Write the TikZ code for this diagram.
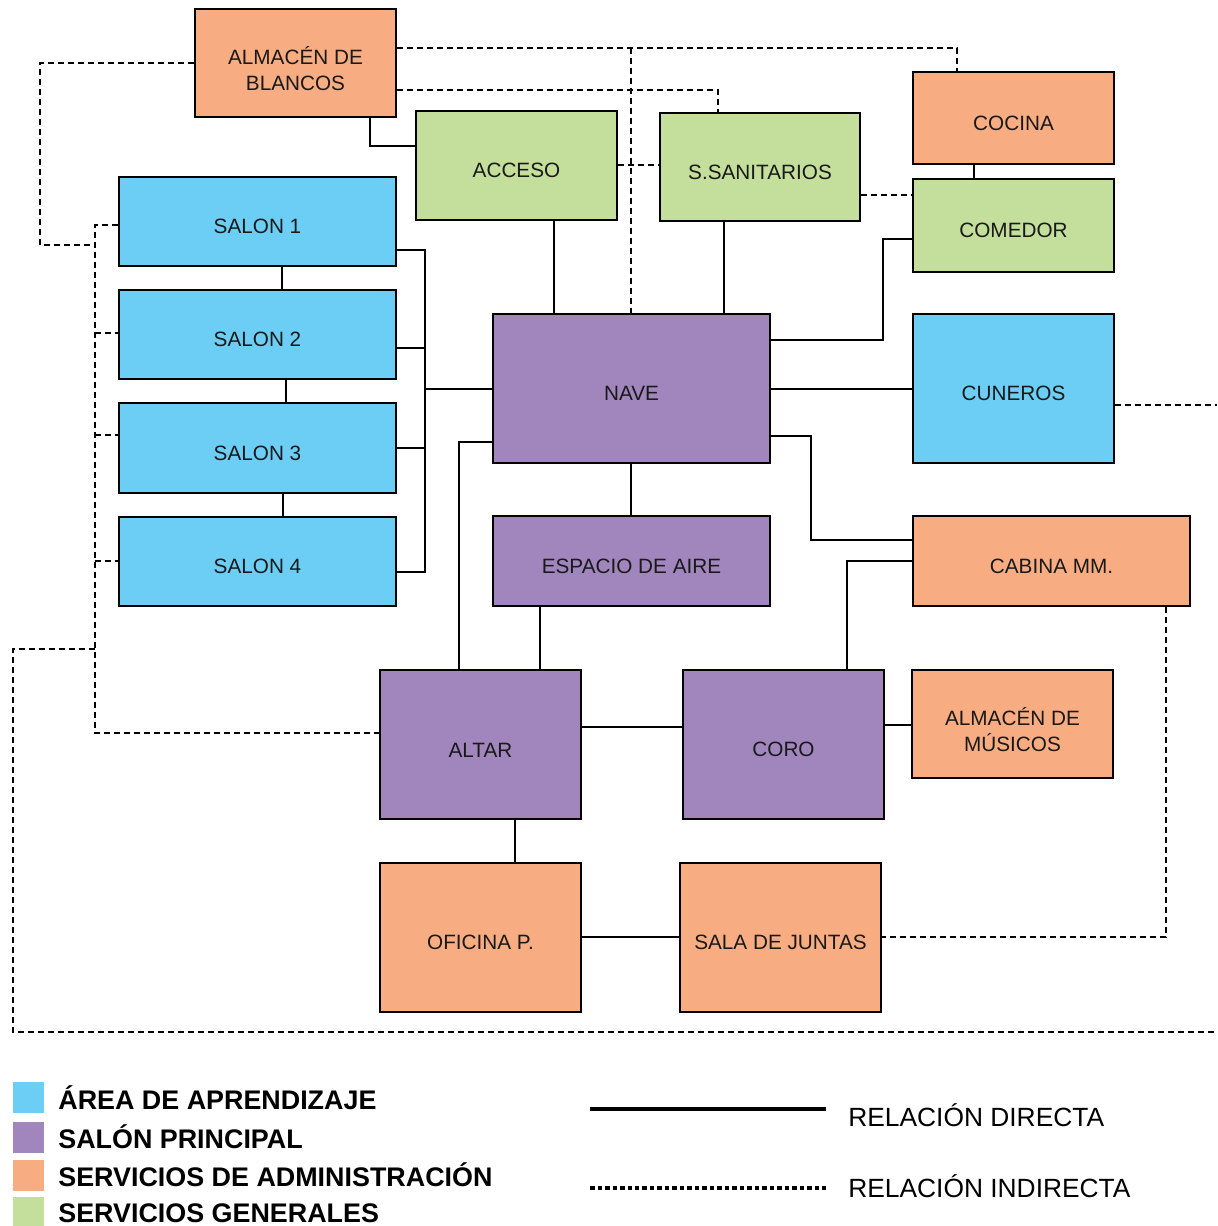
\documentclass[tikz,border=0pt]{standalone}
\usepackage{fontspec}
\setmainfont{Liberation Sans}
\definecolor{cblue}{RGB}{108,206,245}
\definecolor{cpurple}{RGB}{160,134,189}
\definecolor{corange}{RGB}{248,172,130}
\definecolor{cgreen}{RGB}{196,223,155}
\definecolor{ctext}{RGB}{25,25,25}
\tikzset{
  room/.style={draw=black, line width=1.1pt, inner sep=0pt, align=center, text=ctext,
    font=\fontsize{11.8}{14.7}\selectfont, text height=0.5cm},
  tworow/.style={text height=1.12cm, font=\fontsize{11.8}{15.2}\selectfont},
  link/.style={line width=1.1pt},
  ilink/.style={line width=1.1pt, dash pattern=on 0.12cm off 0.08cm},
  legsq/.style={inner sep=0pt},
  legtxt/.style={anchor=west, inner sep=0pt, text=black, font=\fontsize{15}{18}\selectfont},
}
\newcommand\roomnode[8][]{%
  \node[room, #1, fill=#3, minimum width={(#6-#4)*0.02cm}, minimum height={(#7-#5)*0.02cm}]
    (#2) at ({(#4+#6)/2},{(#5+#7)/2}) {#8};}
\begin{document}
\begin{tikzpicture}[x=0.02cm, y=-0.02cm]
\useasboundingbox (0,0) rectangle (1217,1226);
% rooms
\roomnode[tworow]{almb}{corange}{195}{9}{396}{117}{ALMACÉN DE\\BLANCOS}
\roomnode{acceso}{cgreen}{416}{111}{617}{220}{ACCESO}
\roomnode{ssan}{cgreen}{660}{113}{860}{221}{S.SANITARIOS}
\roomnode{cocina}{corange}{913}{72}{1114}{164}{COCINA}
\roomnode{comedor}{cgreen}{913}{179}{1114}{272}{COMEDOR}
\roomnode{s1}{cblue}{119}{177}{396}{266}{SALON 1}
\roomnode{s2}{cblue}{119}{290}{396}{379}{SALON 2}
\roomnode{s3}{cblue}{119}{403}{396}{493}{SALON 3}
\roomnode{s4}{cblue}{119}{517}{396}{606}{SALON 4}
\roomnode{nave}{cpurple}{493}{314}{770}{463}{NAVE}
\roomnode{cuneros}{cblue}{913}{314}{1114}{463}{CUNEROS}
\roomnode{espacio}{cpurple}{493}{516}{770}{606}{ESPACIO DE AIRE}
\roomnode{cabina}{corange}{913}{516}{1190}{606}{CABINA MM.}
\roomnode{altar}{cpurple}{380}{670}{581}{819}{ALTAR}
\roomnode{coro}{cpurple}{683}{670}{884}{819}{CORO}
\roomnode[tworow]{almm}{corange}{912}{670}{1113}{778}{ALMACÉN DE\\MÚSICOS}
\roomnode{oficina}{corange}{380}{863}{581}{1012}{OFICINA P.}
\roomnode{sala}{corange}{680}{863}{881}{1012}{SALA DE JUNTAS}
% direct relations
\draw[link] (almb.south -| 370,0) |- (acceso.west |- 0,146);
\draw[link] (acceso.south -| 554,0) -- (nave.north -| 554,0);
\draw[link] (ssan.south -| 724,0) -- (nave.north -| 724,0);
\draw[link] (cocina.south -| 974,0) -- (comedor.north -| 974,0);
\draw[link] (comedor.west |- 0,239) -| (883,340) -- (nave.east |- 0,340);
\draw[link] (nave.east |- 0,389) -- (cuneros.west |- 0,389);
\draw[link] (nave.east |- 0,436) -| (811,540) -- (cabina.west |- 0,540);
\draw[link] (nave.south -| 631,0) -- (espacio.north -| 631,0);
\draw[link] (s1.south -| 282,0) -- (s2.north -| 282,0);
\draw[link] (s2.south -| 286,0) -- (s3.north -| 286,0);
\draw[link] (s3.south -| 283,0) -- (s4.north -| 283,0);
\coordinate (bus) at (425,389);
\draw[link] (s1.east |- 0,250) -| (425,572) -- (s4.east |- 0,572);
\draw[link] (s2.east |- 0,348) -- (425,348);
\draw[link] (s3.east |- 0,448) -- (425,448);
\draw[link] (bus) -- (nave.west |- bus);
\draw[link] (nave.west |- 0,442) -| (altar.north -| 459,0);
\draw[link] (espacio.south -| 540,0) -- (altar.north -| 540,0);
\draw[link] (altar.east |- 0,727) -- (coro.west |- 0,727);
\draw[link] (cabina.west |- 0,561) -| (coro.north -| 847,0);
\draw[link] (coro.east |- 0,725) -- (almm.west |- 0,725);
\draw[link] (altar.south -| 515,0) -- (oficina.north -| 515,0);
\draw[link] (oficina.east |- 0,937) -- (sala.west |- 0,937);
% indirect relations
\coordinate (rtop) at (1217,405);
\coordinate (rbot) at (1217,1032);
\draw[ilink] (almb.west |- 0,63) -| (40,245) -- (95,245);
\draw[ilink] (s1.west |- 0,225) -| (95,733) -- (altar.west |- 0,733);
\draw[ilink] (95,333) -- (s2.west |- 0,333);
\draw[ilink] (95,435) -- (s3.west |- 0,435);
\draw[ilink] (95,561) -- (s4.west |- 0,561);
\draw[ilink] (95,649) -| (13,1032) -- (rbot);
\draw[ilink] (cuneros.east |- rtop) -- (rtop);
\draw[ilink] (almb.east |- 0,48) -| (cocina.north -| 957,0);
\draw[ilink] (631,48) -- (nave.north -| 631,0);
\draw[ilink] (almb.east |- 0,90) -| (ssan.north -| 718,0);
\draw[ilink] (acceso.east |- 0,165) -- (ssan.west |- 0,165);
\draw[ilink] (ssan.east |- 0,195) -- (comedor.west |- 0,195);
\draw[ilink] (cabina.south -| 1166,0) |- (sala.east |- 0,937);
% legend
\node[legsq, fill=cblue, minimum width=0.62cm, minimum height=0.62cm] (lb) at (28.5,1097.5) {};
\node[legsq, fill=cpurple, minimum width=0.62cm, minimum height=0.62cm] (lp) at (28.5,1137.5) {};
\node[legsq, fill=corange, minimum width=0.62cm, minimum height=0.62cm] (lo) at (28.5,1175.5) {};
\node[legsq, fill=cgreen, minimum width=0.62cm, minimum height=0.6cm] (lg) at (28.5,1211.5) {};
\node[legtxt, font=\fontsize{15.3}{18}\selectfont\bfseries] (tb) at (58,1098) {ÁREA DE APRENDIZAJE};
\node[legtxt, font=\fontsize{15.3}{18}\selectfont\bfseries] (tp) at (58,1137) {SALÓN PRINCIPAL};
\node[legtxt, font=\fontsize{15.3}{18}\selectfont\bfseries] (to) at (58,1175) {SERVICIOS DE ADMINISTRACIÓN};
\node[legtxt, font=\fontsize{15.3}{18}\selectfont\bfseries] (tg) at (58,1213) {SERVICIOS GENERALES};
\coordinate (ld1) at (590,1109);
\coordinate (ld2) at (826,1109);
\coordinate (li1) at (590,1188);
\coordinate (li2) at (826,1188);
\draw[line width=1.8pt] (ld1) -- (ld2);
\draw[line width=1.8pt, dash pattern=on 0.09cm off 0.06cm] (li1) -- (li2);
\node[legtxt] (tdir) at (848,1115) {RELACIÓN DIRECTA};
\node[legtxt] (tind) at (848,1186) {RELACIÓN INDIRECTA};
\end{tikzpicture}
\end{document}
